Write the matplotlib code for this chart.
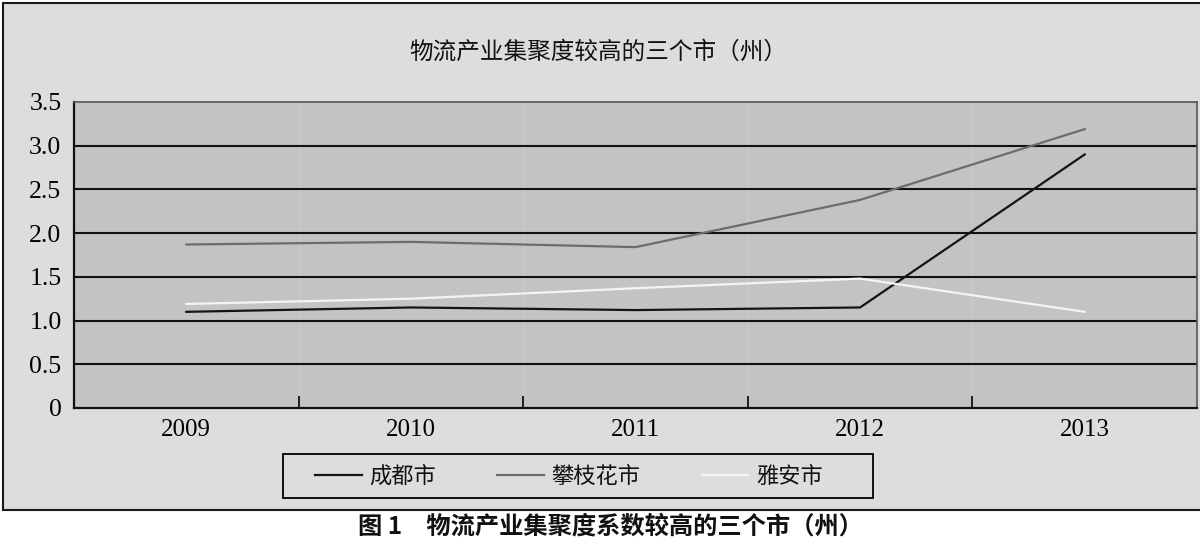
import numpy as np
from matplotlib import pyplot as plt
from matplotlib.patches import Rectangle

plt.rcParams['font.family'] = ['Noto Sans CJK SC', 'DejaVu Sans']

years = ['2009', '2010', '2011', '2012', '2013']
chengdu = [1.10, 1.15, 1.12, 1.15, 2.90]
panzhihua = [1.87, 1.90, 1.84, 2.38, 3.19]
yaan = [1.19, 1.25, 1.37, 1.48, 1.10]
names = ['成都市', '攀枝花市', '雅安市']
yticks = [0, 0.5, 1.0, 1.5, 2.0, 2.5, 3.0, 3.5]
ylabels = ['0', '0.5', '1.0', '1.5', '2.0', '2.5', '3.0', '3.5']

fig = plt.figure(figsize=(12, 5.52), dpi=100, facecolor='white')

# outer chart frame (light grey panel)
fig.patches.append(Rectangle((3/1200, (552-510)/552), 1.2, (510-3)/552,
                             transform=fig.transFigure, facecolor='#dcdede',
                             edgecolor='#1a1a1a', linewidth=1.5, zorder=-10))
# legend frame
fig.patches.append(Rectangle((283/1200, (552-498)/552), 590/1200, 44/552,
                             transform=fig.transFigure, facecolor='none',
                             edgecolor='#111111', linewidth=1.4, zorder=-5))

ax = fig.add_axes([74/1200, (552-408)/552, (1197-74)/1200, (408-102)/552])
ax.set_facecolor('#c2c4c4')

x = np.arange(len(years))
for yv in yticks[1:-1]:
    ax.axhline(yv, color='#111111', linewidth=1.5, zorder=1)
for b in np.arange(0.5, len(years) - 0.5, 1):
    ax.axvline(b, color='#cbcdcd', linewidth=1, zorder=0.5)

l1, = ax.plot(x, chengdu, color='#141414', linewidth=1.6, zorder=3)
l2, = ax.plot(x, panzhihua, color='#6c6c6c', linewidth=1.6, zorder=3)
l3, = ax.plot(x, yaan, color='#f4f4f4', linewidth=1.6, zorder=3)

ax.set_xlim(-0.5, len(years) - 0.5)
ax.set_ylim(0, 3.5)
ax.set_yticks(yticks)
ax.set_yticklabels(ylabels, fontfamily='Liberation Serif', fontsize=18.5)
ax.set_xticks(x)
ax.set_xticklabels(years, fontfamily='Liberation Serif', fontsize=18)
ax.set_xticks(np.arange(0.5, len(years) - 0.5, 1), minor=True)
ax.tick_params(axis='x', which='major', length=0, pad=8)
ax.tick_params(axis='x', which='minor', direction='in', length=9, width=1.2)
ax.tick_params(axis='y', length=0, pad=9)

for s in ['left', 'bottom']:
    ax.spines[s].set_color('#111111')
    ax.spines[s].set_linewidth(1.6)
for s in ['top', 'right']:
    ax.spines[s].set_color('#555555')
    ax.spines[s].set_linewidth(1.2)

fig.text(598/1200, (552-52)/552, '物流产业集聚度较高的三个市（州）', ha='center', va='center',
         fontsize=17, color='#111111')

leg = fig.legend([l1, l2, l3], names, loc='center left', ncol=3, frameon=False,
                 bbox_to_anchor=(306/1200, (552-476)/552),
                 bbox_transform=fig.transFigure, fontsize=16, handlelength=2.1,
                 handletextpad=0.35, columnspacing=2.75, borderaxespad=0)
for t in leg.get_texts():
    t.set_color('#111111')

fig.text(610/1200, (552-527)/552, '图 1\u3000物流产业集聚度系数较高的三个市（州）',
         ha='center', va='center', fontsize=17.5, fontweight='bold', color='#111111')

plt.savefig('out.png', dpi=100, facecolor=fig.get_facecolor())
